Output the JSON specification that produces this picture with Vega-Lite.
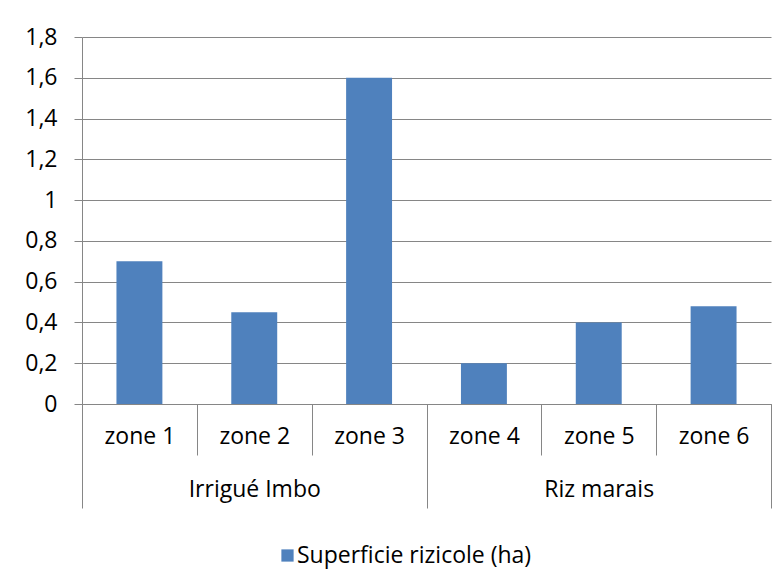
{
  "$schema": "https://vega.github.io/schema/vega-lite/v6.json",
  "width": 689,
  "height": 367,
  "autosize": {"type": "none"},
  "padding": {"left": 82, "top": 37, "right": 11, "bottom": 175},
  "background": "white",
  "config": {
    "view": {"stroke": null},
    "font": "Open Sans",
    "axis": {
      "labelFont": "Open Sans",
      "labelFontSize": 23,
      "labelColor": "#000000",
      "domainColor": "#868686",
      "tickColor": "#868686",
      "gridColor": "#868686",
      "domainWidth": 1,
      "tickWidth": 1,
      "gridWidth": 1
    }
  },
  "data": {
    "values": [
      {"zone": "zone 1", "group": "Irrigué Imbo", "value": 0.7},
      {"zone": "zone 2", "group": "Irrigué Imbo", "value": 0.45},
      {"zone": "zone 3", "group": "Irrigué Imbo", "value": 1.6},
      {"zone": "zone 4", "group": "Riz marais", "value": 0.2},
      {"zone": "zone 5", "group": "Riz marais", "value": 0.4},
      {"zone": "zone 6", "group": "Riz marais", "value": 0.48}
    ]
  },
  "resolve": {"scale": {"x": "independent"}, "axis": {"x": "independent"}},
  "layer": [
    {
      "mark": {"type": "bar", "width": {"band": 0.4}},
      "encoding": {
        "x": {
          "field": "zone",
          "type": "nominal",
          "scale": {"paddingInner": 0, "paddingOuter": 0},
          "axis": {
            "orient": "bottom",
            "title": null,
            "labelAngle": 0,
            "tickBand": "extent",
            "tickSize": 51,
            "labelPadding": -30,
            "grid": false
          }
        },
        "y": {
          "field": "value",
          "type": "quantitative",
          "scale": {"domain": [0, 1.8], "nice": false},
          "axis": {
            "title": null,
            "values": [0, 0.2, 0.4, 0.6, 0.8, 1, 1.2, 1.4, 1.6, 1.8],
            "format": "~g",
            "labelExpr": "replace(datum.label, '.', ',')",
            "grid": true,
            "tickSize": 8,
            "labelPadding": 17
          }
        },
        "color": {
          "datum": "Superficie rizicole (ha)",
          "type": "nominal",
          "scale": {"range": ["#4F81BD"]},
          "legend": {
            "title": null,
            "orient": "none",
            "legendX": 194,
            "legendY": 507,
            "symbolType": "square",
            "symbolSize": 150,
            "symbolStrokeWidth": 0,
            "labelFont": "Open Sans",
            "labelFontSize": 23,
            "labelColor": "#000000",
            "labelOffset": -2,
            "labelLimit": 0
          }
        }
      }
    },
    {
      "mark": {"type": "bar", "opacity": 0},
      "encoding": {
        "x": {
          "field": "group",
          "type": "nominal",
          "scale": {"paddingInner": 0, "paddingOuter": 0},
          "axis": {
            "orient": "bottom",
            "title": null,
            "labelAngle": 0,
            "tickBand": "extent",
            "tickSize": 104,
            "labelPadding": -30,
            "domain": false,
            "grid": false
          }
        },
        "y": {"field": "value", "type": "quantitative"}
      }
    }
  ]
}
